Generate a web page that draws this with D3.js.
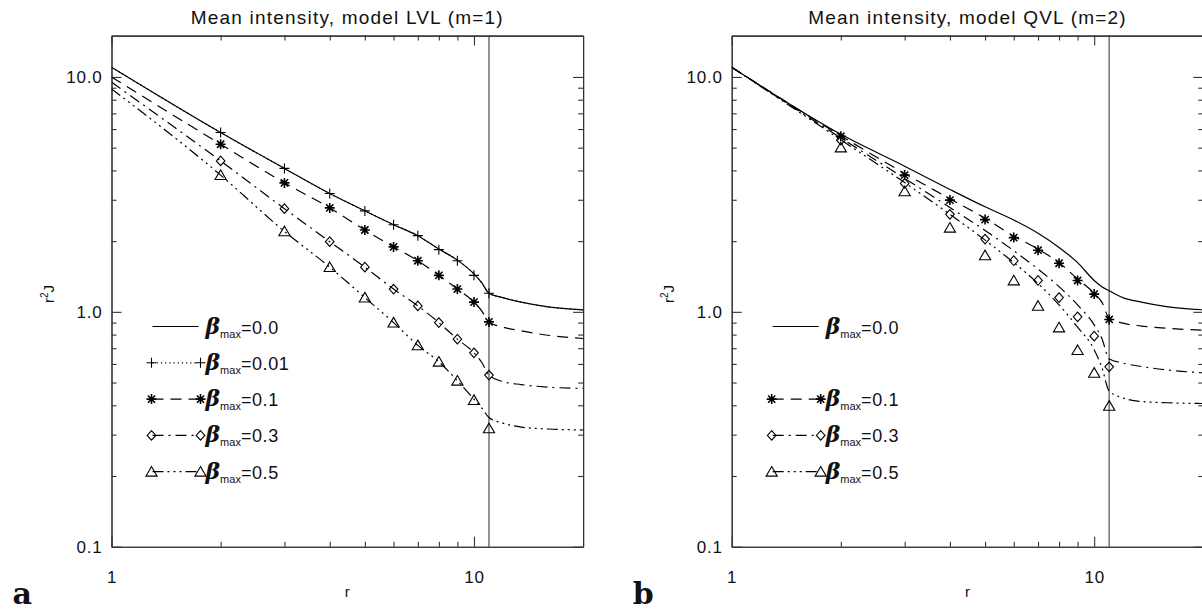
<!DOCTYPE html>
<html>
<head>
<meta charset="utf-8">
<script src="https://cdn.jsdelivr.net/npm/d3@7"></script>
<style>
  body { margin: 0; background: #fff; }
  text { font-family: "Liberation Sans", Arial, sans-serif; fill: #111; }
</style>
</head>
<body>
<div id="chart"></div>
<script>
// radii where the model curves were sampled, and where the symbols sit
var rGrid = [1, 2, 3, 4, 5, 6, 7, 8, 9, 10, 10.5, 11, 12, 13.5, 16, 20];
var rMarks = [2, 3, 4, 5, 6, 7, 8, 9, 10, 11];
var rBoundary = 11;

// panel a : model LVL (m=1), r^2 J along rGrid
var lvlLine000 = [11.0, 5.80, 4.08, 3.19, 2.69, 2.35, 2.11, 1.85, 1.66, 1.45, 1.33, 1.20, 1.15, 1.10, 1.05, 1.02];
var lvlLine001 = [11.0, 5.80, 4.08, 3.19, 2.69, 2.35, 2.11, 1.85, 1.66, 1.45, 1.33, 1.20, 1.15, 1.10, 1.05, 1.02];
var lvlLine010 = [10.0, 5.17, 3.54, 2.77, 2.23, 1.89, 1.65, 1.43, 1.25, 1.10, 1.01, 0.906, 0.862, 0.83, 0.795, 0.77];
var lvlLine030 = [9.5, 4.39, 2.75, 1.99, 1.55, 1.25, 1.06, 0.90, 0.765, 0.669, 0.61, 0.538, 0.505, 0.49, 0.478, 0.472];
var lvlLine050 = [8.9, 3.82, 2.20, 1.55, 1.15, 0.90, 0.72, 0.613, 0.509, 0.425, 0.39, 0.355, 0.336, 0.323, 0.317, 0.314];
// panel a symbols along rMarks
var lvlMark001 = [5.80, 4.08, 3.19, 2.69, 2.35, 2.11, 1.84, 1.65, 1.43, 1.20];
var lvlMark010 = [5.17, 3.54, 2.77, 2.23, 1.89, 1.65, 1.43, 1.25, 1.10, 0.906];
var lvlMark030 = [4.39, 2.75, 1.99, 1.55, 1.25, 1.06, 0.90, 0.765, 0.669, 0.538];
var lvlMark050 = [3.82, 2.20, 1.55, 1.15, 0.90, 0.72, 0.613, 0.509, 0.421, 0.319];

// panel b : model QVL (m=2)
var qvlLine000 = [11.0, 5.70, 4.17, 3.32, 2.80, 2.46, 2.16, 1.88, 1.62, 1.36, 1.28, 1.23, 1.15, 1.10, 1.05, 1.02];
var qvlLine010 = [11.0, 5.62, 3.88, 3.03, 2.50, 2.10, 1.85, 1.62, 1.38, 1.20, 1.10, 0.94, 0.895, 0.87, 0.85, 0.836];
var qvlLine030 = [11.0, 5.50, 3.70, 2.78, 2.22, 1.82, 1.52, 1.28, 1.07, 0.88, 0.77, 0.63, 0.605, 0.585, 0.565, 0.55];
var qvlLine050 = [11.0, 5.40, 3.55, 2.60, 2.02, 1.62, 1.32, 1.07, 0.86, 0.69, 0.58, 0.46, 0.43, 0.415, 0.41, 0.407];
var qvlMark010 = [5.59, 3.82, 2.99, 2.47, 2.07, 1.83, 1.61, 1.36, 1.19, 0.928];
var qvlMark030 = [5.38, 3.52, 2.60, 2.04, 1.65, 1.36, 1.15, 0.952, 0.788, 0.583];
var qvlMark050 = [5.01, 3.26, 2.28, 1.74, 1.36, 1.06, 0.858, 0.687, 0.55, 0.398];

var betaLabels = ["0.0", "0.01", "0.1", "0.3", "0.5"];
var xMajor = [1, 10], xMajorLabels = ["1", "10"];
var xMinor = [2, 3, 4, 5, 6, 7, 8, 9];
var yMajor = [0.1, 1, 10], yMajorLabels = ["0.1", "1.0", "10.0"];
var yMinor = [0.2, 0.3, 0.4, 0.5, 0.6, 0.7, 0.8, 0.9, 2, 3, 4, 5, 6, 7, 8, 9];
var xDomain = [1, 20], yDomain = [0.1, 15];

// line styles, one per beta slot (solid, dotted, dashed, dash-dot, dash-dot-dot-dot)
var styles = [
  { dash: null, mark: null },
  { dash: "1.2,3", mark: "plus" },
  { dash: "11,7", mark: "star" },
  { dash: "11,5,2,5", mark: "diamond" },
  { dash: "11,4,2,4,2,4,2,4", mark: "triangle" }
];

var panels = [
  { left: 111.5, title: "Mean intensity, model LVL (m=1)", tag: "a", id: "clipA",
    series: [
      { slot: 0, line: lvlLine000, marks: null },
      { slot: 1, line: lvlLine001, marks: lvlMark001 },
      { slot: 2, line: lvlLine010, marks: lvlMark010 },
      { slot: 3, line: lvlLine030, marks: lvlMark030 },
      { slot: 4, line: lvlLine050, marks: lvlMark050 }
    ] },
  { left: 731.7, title: "Mean intensity, model QVL (m=2)", tag: "b", id: "clipB",
    series: [
      { slot: 0, line: qvlLine000, marks: null },
      { slot: 2, line: qvlLine010, marks: qvlMark010 },
      { slot: 3, line: qvlLine030, marks: qvlMark030 },
      { slot: 4, line: qvlLine050, marks: qvlMark050 }
    ] }
];

var W = 1202, H = 610;
var plotW = 471.6, plotTop = 35.6, plotBottom = 546.7;
var axisColor = "#333";

var svg = d3.select("#chart").append("svg")
    .attr("width", W).attr("height", H)
    .style("background", "#fff");

var markPaths = {
  plus: "M-5,0H5M0,-5V5",
  star: "M-5,0H5M0,-5V5M-3.6,-3.6L3.6,3.6M-3.6,3.6L3.6,-3.6",
  diamond: "M0,-4.8L4.3,0L0,4.8L-4.3,0Z",
  triangle: "M0,-5.2L5.6,4.4L-5.6,4.4Z"
};

function drawMark(g, type, x, y) {
  g.append("path")
    .attr("d", markPaths[type])
    .attr("transform", "translate(" + x + "," + y + ")")
    .attr("fill", type == "star" ? "#000" : "none")
    .attr("stroke", "#000")
    .attr("stroke-width", type == "star" ? 1.6 : 1.1);
}

panels.forEach(function (p) {
  var x = d3.scaleLog().domain(xDomain).range([p.left, p.left + plotW]);
  var y = d3.scaleLog().domain(yDomain).range([plotBottom, plotTop]);
  var g = svg.append("g");

  // clip for the curves
  svg.append("defs").append("clipPath").attr("id", p.id)
    .append("rect").attr("x", x.range()[0]).attr("y", plotTop)
    .attr("width", plotW).attr("height", plotBottom - plotTop);

  // boundary r = 11
  g.append("line")
    .attr("x1", x(rBoundary)).attr("x2", x(rBoundary))
    .attr("y1", plotTop).attr("y2", plotBottom)
    .attr("stroke", "#7a7a7a").attr("stroke-width", 1.6);

  // axes: major with labels, minor without
  function addAxis(axisFn, scale, vals, size, transform, labels) {
    var ax = axisFn(scale).tickValues(vals).tickSize(size).tickSizeOuter(0);
    if (labels) ax.tickFormat(function (d, i) { return labels[i]; });
    else ax.tickFormat("");
    var a = g.append("g").attr("transform", transform).call(ax);
    a.selectAll("path, line").attr("stroke", axisColor).attr("stroke-width", 1.1);
    a.selectAll("text").style("font-size", "17px").attr("fill", "#222")
      .style("letter-spacing", "0.8px")
      .style("font-family", "'Liberation Sans', Arial, sans-serif");
    return a;
  }
  var xb = addAxis(d3.axisBottom, x, xMajor, -10, "translate(0," + plotBottom + ")", xMajorLabels);
  xb.selectAll("text").attr("y", 24);
  addAxis(d3.axisBottom, x, xMinor, -5, "translate(0," + plotBottom + ")", null);
  addAxis(d3.axisTop, x, xMajor, -10, "translate(0," + plotTop + ")", null);
  addAxis(d3.axisTop, x, xMinor, -5, "translate(0," + plotTop + ")", null);
  var yl = addAxis(d3.axisLeft, y, yMajor, -10, "translate(" + x.range()[0] + ",0)", yMajorLabels);
  yl.selectAll("text").attr("x", -9);
  addAxis(d3.axisLeft, y, yMinor, -5, "translate(" + x.range()[0] + ",0)", null);
  addAxis(d3.axisRight, y, yMajor, -10, "translate(" + x.range()[1] + ",0)", null);
  addAxis(d3.axisRight, y, yMinor, -5, "translate(" + x.range()[1] + ",0)", null);

  // curves
  var lineGen = d3.line()
    .x(function (d) { return x(d[0]); })
    .y(function (d) { return y(d[1]); })
    .curve(d3.curveMonotoneX);
  var curves = g.append("g").attr("clip-path", "url(#" + p.id + ")");
  p.series.forEach(function (s) {
    var st = styles[s.slot];
    curves.append("path")
      .datum(rGrid.map(function (r, i) { return [r, s.line[i]]; }))
      .attr("d", lineGen)
      .attr("fill", "none")
      .attr("stroke", "#000")
      .attr("stroke-width", 1.2)
      .attr("stroke-dasharray", st.dash);
    if (s.marks) {
      s.marks.forEach(function (v, i) { drawMark(g, st.mark, x(rMarks[i]), y(v)); });
    }
  });

  // legend
  var lx0 = p.left + 41, lx1 = p.left + 87;
  p.series.forEach(function (s) {
    var st = styles[s.slot];
    var ly = 326.5 + 36.3 * s.slot;
    g.append("line").attr("x1", lx0).attr("x2", lx1).attr("y1", ly).attr("y2", ly)
      .attr("stroke", "#000").attr("stroke-width", 1.2).attr("stroke-dasharray", st.dash);
    if (st.mark) { drawMark(g, st.mark, lx0 - 1, ly); drawMark(g, st.mark, lx1 + 2, ly); }
    var t = g.append("text").attr("x", lx1 + 7).attr("y", ly + 7);
    t.append("tspan").text("β").style("font-size", "22px").style("font-weight", "bold")
      .style("font-style", "italic").style("font-family", "'DejaVu Serif', serif");
    t.append("tspan").text("max").attr("dy", 4).style("font-size", "11px");
    t.append("tspan").text("=" + betaLabels[s.slot]).attr("dy", -4)
      .style("font-size", "18px").style("letter-spacing", "0.6px");
  });

  // titles and axis names
  var cx = p.left + plotW / 2;
  g.append("text").attr("x", cx).attr("y", 24).attr("text-anchor", "middle")
    .style("font-size", "19px").style("letter-spacing", "1.2px").text(p.title);
  g.append("text").attr("x", cx).attr("y", 597).attr("text-anchor", "middle")
    .style("font-size", "15px").text("r");
  var yt = g.append("text").attr("transform", "translate(" + (p.left - 58) + ",294) rotate(-90)")
    .attr("text-anchor", "middle").style("font-size", "15px");
  yt.append("tspan").text("r");
  yt.append("tspan").text("2").attr("dy", -6).style("font-size", "10px");
  yt.append("tspan").text("J").attr("dy", 6);

  g.append("text").attr("x", p.left - 99).attr("y", 604)
    .style("font-family", "'DejaVu Serif', 'Liberation Serif', serif")
    .style("font-weight", "bold").style("font-size", "30px").text(p.tag);
});
</script>
</body>
</html>
